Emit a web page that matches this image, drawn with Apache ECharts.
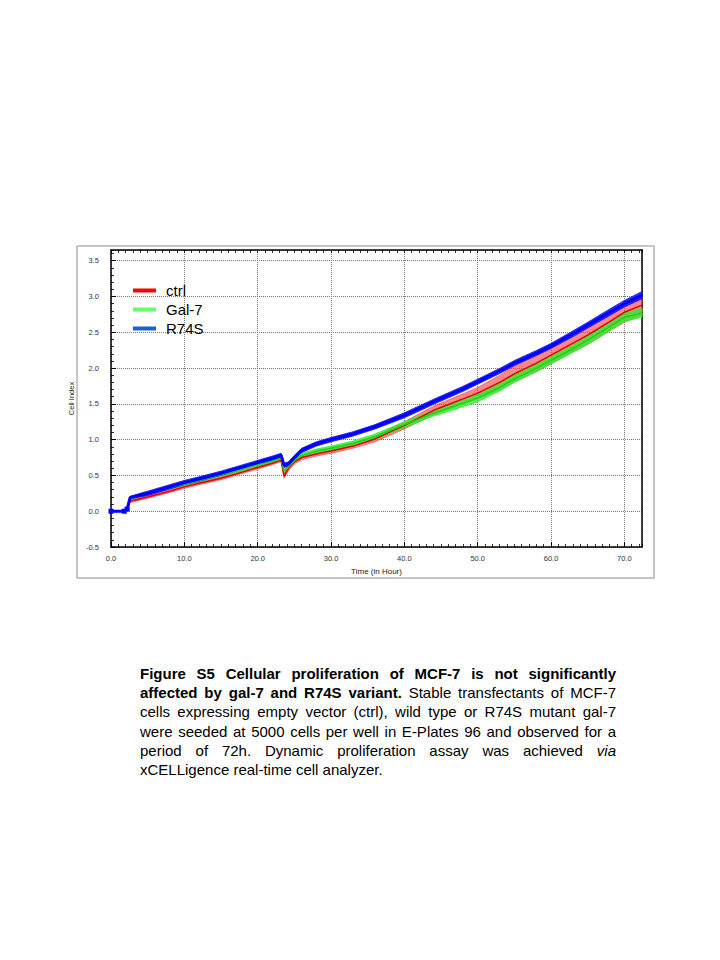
<!DOCTYPE html>
<html>
<head>
<meta charset="utf-8">
<script src="https://cdn.jsdelivr.net/npm/echarts@6/dist/echarts.min.js"></script>
<style>
html,body{margin:0;padding:0;background:#fff;}
#chart{position:absolute;left:0;top:0;width:720px;height:960px;}
#caption{position:absolute;left:140px;top:664px;width:476px;font:15px/19.2px "Liberation Sans",Arial,sans-serif;color:#000;}
#caption div{text-align:justify;text-align-last:justify;white-space:nowrap;}
#caption div.last{text-align:left;text-align-last:left;}
</style>
</head>
<body>
<div id="chart"></div>
<div id="caption">
<div><b>Figure S5 Cellular proliferation of MCF-7 is not significantly</b></div>
<div><b>affected by gal-7 and R74S variant.</b> Stable transfectants of MCF-7</div>
<div>cells expressing empty vector (ctrl), wild type or R74S mutant gal-7</div>
<div>were seeded at 5000 cells per well in E-Plates 96 and observed for a</div>
<div>period of 72h. Dynamic proliferation assay was achieved <i>via</i></div>
<div class="last">xCELLigence real-time cell analyzer.</div>
</div>
<script>
// time points (h)
var hours = [0, 1.8, 2.2, 2.6, 3, 5, 8, 10, 12, 15, 18, 20, 22, 23.2, 23.6, 24.2, 25, 26, 28, 30, 33, 36, 40, 44, 48, 50, 53, 55, 58, 60, 63, 65, 68, 70, 72.4]

// cell index, mean
var ctrl = [0, 0, 0.02, 0.14, 0.15, 0.20, 0.28, 0.34, 0.39, 0.46, 0.55, 0.61, 0.67, 0.71, 0.49, 0.60, 0.69, 0.75, 0.80, 0.84, 0.91, 1.01, 1.20, 1.41, 1.57, 1.65, 1.80, 1.92, 2.07, 2.18, 2.35, 2.46, 2.65, 2.78, 2.88]
var gal7 = [0, 0, 0.03, 0.18, 0.19, 0.25, 0.33, 0.38, 0.43, 0.51, 0.59, 0.65, 0.70, 0.74, 0.56, 0.62, 0.71, 0.78, 0.84, 0.88, 0.95, 1.04, 1.21, 1.37, 1.51, 1.58, 1.73, 1.85, 2.00, 2.11, 2.27, 2.39, 2.58, 2.71, 2.77]
var r74s = [0, 0, 0.03, 0.19, 0.20, 0.25, 0.34, 0.40, 0.45, 0.53, 0.62, 0.68, 0.74, 0.78, 0.64, 0.66, 0.75, 0.85, 0.94, 1.00, 1.08, 1.18, 1.34, 1.53, 1.71, 1.81, 1.96, 2.07, 2.21, 2.31, 2.48, 2.60, 2.78, 2.90, 3.02]

// error (SD)
var ctrlSd = [0, 0, 0.01, 0.02, 0.02, 0.02, 0.02, 0.02, 0.02, 0.02, 0.02, 0.02, 0.02, 0.02, 0.03, 0.03, 0.03, 0.03, 0.03, 0.03, 0.03, 0.04, 0.05, 0.06, 0.07, 0.08, 0.10, 0.11, 0.12, 0.12, 0.12, 0.13, 0.13, 0.14, 0.14]
var gal7Sd = [0, 0, 0.01, 0.02, 0.02, 0.02, 0.02, 0.02, 0.02, 0.02, 0.02, 0.02, 0.02, 0.02, 0.02, 0.02, 0.03, 0.03, 0.03, 0.03, 0.03, 0.04, 0.04, 0.04, 0.05, 0.05, 0.05, 0.05, 0.05, 0.05, 0.05, 0.06, 0.06, 0.06, 0.06]
var r74sSd = [0, 0, 0.01, 0.02, 0.02, 0.03, 0.03, 0.03, 0.03, 0.03, 0.03, 0.03, 0.03, 0.03, 0.03, 0.03, 0.03, 0.03, 0.03, 0.03, 0.03, 0.03, 0.035, 0.035, 0.035, 0.035, 0.035, 0.035, 0.035, 0.035, 0.04, 0.04, 0.045, 0.045, 0.05]

var yRange = [-0.5, 3.65]
var xRange = [0, 72.4]

var FONT = '"Liberation Sans", Arial, sans-serif'

function pairs(ys){
    return hours.map(function(t, i){ return [t, ys[i]] })
}

// mean +- sd as one polygon, through the axis scales
function band(mean, sd, color, opacity){
    return {
        type:'custom', silent:true, data:[[hours[0], mean[0]]],
        renderItem:function(params, api){
            var pts = []
            hours.forEach(function(t, i){ pts.push(api.coord([t, mean[i] + sd[i]])) })
            for (var i = hours.length - 1; i >= 0; i--){ pts.push(api.coord([hours[i], mean[i] - sd[i]])) }
            return {type:'polygon', shape:{points:pts},
                style:{fill:color, opacity:opacity, stroke:color, lineWidth:1}}
        }
    }
}

function meanLine(name, data, color, width, marks){
    return {name:name, type:'line', data:pairs(data), color:color,
        showSymbol:true, showAllSymbol:true, symbolSize:5,
        symbol:function(v, p){ return marks && p.dataIndex <= 2 ? 'rect' : 'none' },
        itemStyle:{color:color}, lineStyle:{color:color, width:width}}
}

var tickLabel = {fontSize:7.5, color:'#333', fontFamily:FONT}
var blackLine = {show:true, onZero:false, lineStyle:{color:'#000', width:1.5}}
var noLine = {show:false, onZero:false}

var myChart = echarts.init(document.getElementById('chart'), null, {renderer:'svg'})

var option = {
    animation:false,
    grid:{left:111, right:78, top:250, bottom:413},
    graphic:[{type:'rect', z:-10, shape:{x:77, y:246, width:577, height:332},
        style:{fill:'none', stroke:'#8c8c8c', lineWidth:1}}],
    legend:{
        orient:'vertical', left:133, top:283, padding:0, itemWidth:23, itemHeight:4, itemGap:4,
        icon:'rect',
        textStyle:{fontSize:15, color:'#000', fontFamily:FONT, padding:[0,0,0,5]},
        data:[
            {name:'ctrl', itemStyle:{color:'#ff0000'}},
            {name:'Gal-7', itemStyle:{color:'#66ff66'}},
            {name:'R74S', itemStyle:{color:'#1466cc'}}
        ]
    },
    xAxis:[
        {   // major ticks, labels, grid
            type:'value', min:xRange[0], max:xRange[1], interval:10, position:'bottom',
            name:'Time (in Hour)', nameLocation:'middle', nameGap:20,
            nameTextStyle:{fontSize:8, color:'#222', fontFamily:FONT},
            axisLine:blackLine,
            axisTick:{inside:true, length:5, lineStyle:{color:'#000'}},
            axisLabel:Object.assign({margin:7, showMaxLabel:false,
                formatter:function(v){ return v.toFixed(1) }}, tickLabel),
            splitLine:{show:true, lineStyle:{type:'dotted', color:'#777'}}
        },
        {   // minor ticks bottom
            type:'value', min:xRange[0], max:xRange[1], interval:1, position:'bottom',
            axisLine:noLine, axisLabel:{show:false}, splitLine:{show:false},
            axisTick:{inside:true, length:3, lineStyle:{color:'#000', width:0.8}}
        },
        {   // top frame
            type:'value', min:xRange[0], max:xRange[1], interval:1, position:'top',
            axisLine:blackLine, axisLabel:{show:false}, splitLine:{show:false},
            axisTick:{inside:true, length:3, lineStyle:{color:'#000', width:0.8}}
        }
    ],
    yAxis:[
        {
            type:'value', min:yRange[0], max:yRange[1], interval:0.5, position:'left',
            name:'Cell Index', nameLocation:'middle', nameGap:22,
            nameTextStyle:{fontSize:7.5, color:'#222', fontFamily:FONT},
            axisLine:blackLine,
            axisTick:{inside:true, length:5, lineStyle:{color:'#000'}},
            axisLabel:Object.assign({margin:12, showMaxLabel:false,
                formatter:function(v){ return v.toFixed(1) }}, tickLabel),
            splitLine:{show:true, lineStyle:{type:'dotted', color:'#777'}}
        },
        {
            type:'value', min:yRange[0], max:yRange[1], interval:0.1, position:'left',
            axisLine:noLine, axisLabel:{show:false}, splitLine:{show:false},
            axisTick:{inside:true, length:3, lineStyle:{color:'#000', width:0.8}}
        },
        {
            type:'value', min:yRange[0], max:yRange[1], position:'right',
            axisLine:blackLine, axisTick:{show:false}, axisLabel:{show:false}, splitLine:{show:false}
        }
    ],
    series:[
        band(ctrl, ctrlSd, '#ff3535', 0.6),
        meanLine('ctrl', ctrl, '#e00000', 1.5),
        band(gal7, gal7Sd, '#2cf02c', 0.8),
        meanLine('Gal-7', gal7, '#1fcf1f', 1.5),
        band(r74s, r74sSd, '#1010ff', 0.85),
        meanLine('R74S', r74s, '#0000ff', 3, true)
    ]
}

myChart.setOption(option)
</script>
</body>
</html>
